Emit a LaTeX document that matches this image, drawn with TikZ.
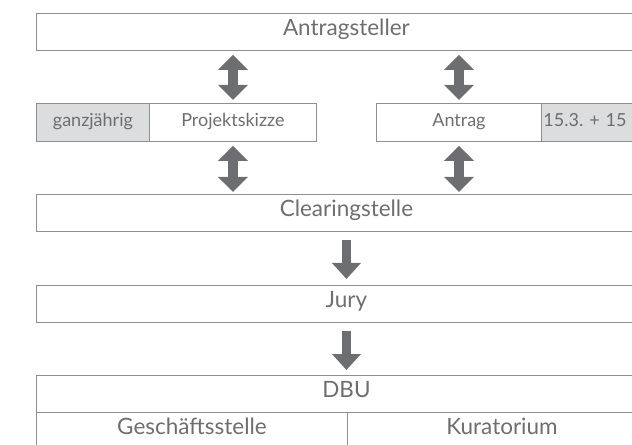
\documentclass[tikz,border=0pt]{standalone}
\usepackage{fontspec}
\setmainfont{Lato}
\usetikzlibrary{arrows.meta}
\definecolor{txtgrey}{HTML}{6D6E71}
\definecolor{linegrey}{HTML}{8E8F91}
\definecolor{fillgrey}{HTML}{DCDDDE}
\definecolor{arrowgrey}{HTML}{6D6E71}
\frenchspacing

\begin{document}
\begin{tikzpicture}[x=1bp,y=-1bp,
    box/.style={draw=linegrey,line width=0.9bp,minimum width=620bp,minimum height=37bp,
      inner sep=0pt,anchor=north west,text=txtgrey,text height=0.72em,text depth=0pt,
      font=\fontsize{22.5bp}{26bp}\selectfont},
    smallbox/.style={box,minimum height=38bp,font=\fontsize{18bp}{21bp}\selectfont},
    datebox/.style={smallbox,fill=fillgrey},
    both/.style={draw=arrowgrey,line width=10bp,
      {Triangle[length=15bp,width=29bp]}-{Triangle[length=15bp,width=29bp]}},
    down/.style={draw=arrowgrey,line width=9bp,-{Triangle[length=16bp,width=28bp]}}]

  \clip (0,0) rectangle (632,445);

  \node[box] (antragsteller) at (36,13) {Antragsteller};

  \node[datebox,minimum width=113bp] (ganz) at (36,103) {ganzjährig};
  \node[smallbox,minimum width=167bp] (skizze) at (149,103) {Projektskizze};
  \node[smallbox,minimum width=165bp] (antrag) at (376,103) {Antrag};
  \node[datebox,minimum width=115bp,inner xsep=2bp,text width=111bp,align=left] (termin) at (541,103) {15.3. + 15};

  \node[box] (clearing) at (36,194) {Clearingstelle};
  \node[box] (jury) at (36,285) {Jury};
  \node[box] (dbu) at (36,375) {DBU};
  \node[box,minimum width=311bp] (gs) at (36,412) {Geschäftsstelle};
  \node[box,minimum width=309bp] (kur) at (347,412) {Kuratorium};

  % Antragsteller <-> Skizze / Antrag <-> Clearingstelle
  \draw[both,shorten <=4bp,shorten >=3bp] (skizze.north |- antragsteller.south) -- (skizze.north);
  \draw[both,shorten <=4bp,shorten >=3bp] (antrag.north |- antragsteller.south) -- (antrag.north);
  \draw[both,shorten <=4bp,shorten >=2bp] (skizze.south) -- (skizze.south |- clearing.north);
  \draw[both,shorten <=4bp,shorten >=2bp] (antrag.south) -- (antrag.south |- clearing.north);

  \draw[down,shorten <=8bp,shorten >=6bp] (clearing.south) -- (jury.north);
  \draw[down,shorten <=8bp,shorten >=5bp] (jury.south) -- (dbu.north);
\end{tikzpicture}
\end{document}
